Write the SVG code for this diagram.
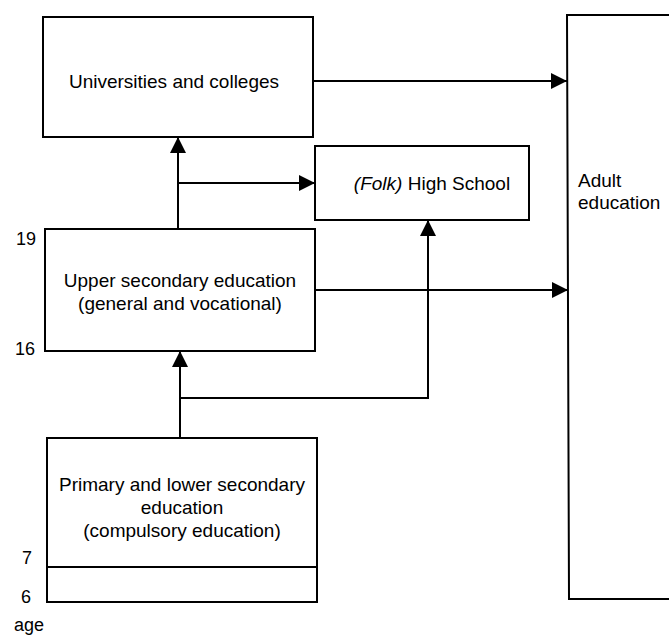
<svg xmlns="http://www.w3.org/2000/svg" width="669" height="635" viewBox="0 0 669 635">
<style>
.box{fill:#fff;stroke:#000;stroke-width:2}
.ln{fill:none;stroke:#000;stroke-width:2}
text{font-family:"Liberation Sans",Arial,sans-serif;font-size:19px;fill:#000}
.c{text-anchor:middle}
.lab{font-size:18px}
</style>
<defs>
<marker id="ah" viewBox="0 0 16 16" refX="16" refY="8" markerWidth="16" markerHeight="16" markerUnits="userSpaceOnUse" orient="auto">
<path d="M0,0 L16,8 L0,16 Z" fill="#000"/>
</marker>
</defs>
<g id="connectors">
<path class="ln" d="M313,81 L567,81" marker-end="url(#ah)"/>
<path class="ln" d="M178,229 L178,137" marker-end="url(#ah)"/>
<path class="ln" d="M178,183 L315,183" marker-end="url(#ah)"/>
<path class="ln" d="M315,290 L568,290" marker-end="url(#ah)"/>
<path class="ln" d="M180,438 L180,351" marker-end="url(#ah)"/>
<path class="ln" d="M180,398 L428,398 L428,220" marker-end="url(#ah)"/>
</g>
<g id="universities">
<rect class="box" x="43" y="17" width="270" height="120"/>
<text class="c" x="174" y="88">Universities and colleges</text>
</g>
<g id="folk">
<rect class="box" x="315" y="146" width="214" height="74"/>
<text class="c" x="432" y="190"><tspan font-style="italic">(Folk)</tspan> High School</text>
</g>
<g id="adult">
<path class="ln" d="M680,15 L567,15 L569,599 L680,599"/>
<text x="578" y="187">Adult</text>
<text x="578" y="209">education</text>
</g>
<g id="upper">
<rect class="box" x="45" y="229" width="270" height="122"/>
<text class="c" x="180" y="287">Upper secondary education</text>
<text class="c" x="180" y="310">(general and vocational)</text>
</g>
<g id="primary">
<rect class="box" x="47" y="438" width="270" height="164"/>
<line class="ln" x1="47" y1="567" x2="317" y2="567"/>
<text class="c" x="182" y="491">Primary and lower secondary</text>
<text class="c" x="182" y="514">education</text>
<text class="c" x="182" y="537">(compulsory education)</text>
</g>
<g id="ages">
<text class="lab" x="16" y="245">19</text>
<text class="lab" x="15" y="355">16</text>
<text class="lab" x="22" y="564">7</text>
<text class="lab" x="21" y="603">6</text>
<text class="lab" x="14" y="631">age</text>
</g>
</svg>
